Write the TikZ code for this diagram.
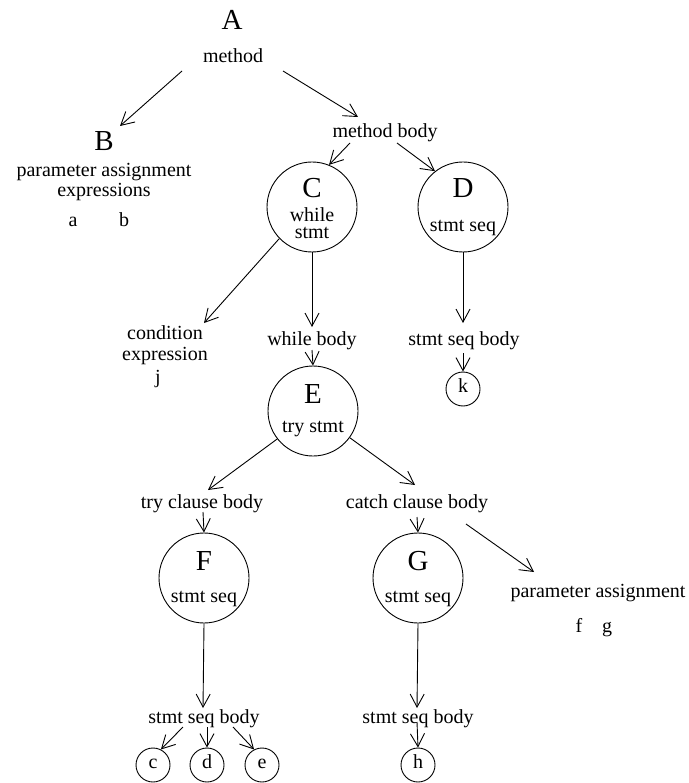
\documentclass[tikz,border=0pt]{standalone}
\usepackage{fontspec}
\setmainfont{Liberation Serif}
\usetikzlibrary{arrows.meta,calc}
\newcommand{\fTxt}{\fontsize{20}{24}\selectfont}
\newcommand{\fTwo}{\fontsize{20}{17}\selectfont}
\newcommand{\fBig}{\fontsize{29}{32}\selectfont}
\begin{document}
\begin{tikzpicture}[x=1pt,y=-1pt,
  lbl/.style={anchor=base,inner sep=0pt,font=\fTxt},
  biglbl/.style={anchor=base,inner sep=0pt,font=\fBig},
  bigc/.style={circle,draw,line width=0.9pt,minimum size=90pt,inner sep=0pt},
  leaf/.style={circle,draw,line width=0.9pt,minimum size=34pt,inner sep=0pt,
    text height=10pt,text depth=4pt,font=\fTxt},
  edge/.style={-{Straight Barb[length=13pt,width=14pt]},line width=0.9pt}]
\useasboundingbox (0,0) rectangle (688,783);

% method
\node[biglbl] (nA) at (232,30) {A};
\node[lbl] (mA) at (233,63) {method};

% parameter assignment expressions
\node[biglbl] (nB) at (104,151) {B};
\node[lbl] (pB1) at (104,177) {parameter assignment};
\node[lbl] (pB2) at (104,197) {expressions};
\node[lbl] (va) at (73,227) {a};
\node[lbl] (vb) at (124,227) {b};

% method body
\node[lbl] (mb) at (385,138) {method body};

% while statement (base anchor sits on the last line)
\node[bigc] (C) at (312,207) {};
\node[biglbl] (Cl) at (312,198) {C};
\node[lbl,align=center,font=\fTwo] (Cw) at (312,239) {while\\stmt};

% statement sequence of the method body
\node[bigc] (D) at (463,207) {};
\node[biglbl] (Dl) at (463,198) {D};
\node[lbl] (Ds) at (463,232) {stmt seq};
\node[lbl] (ssD) at (464,345) {stmt seq body};
\node[leaf] (k) at (463,389) {k};

% condition
\node[lbl] (ce1) at (165,339) {condition};
\node[lbl] (ce2) at (165,360) {expression};
\node[lbl] (vj) at (158,383) {j};

% while body and try statement
\node[lbl] (wb) at (312,345) {while body};
\node[bigc] (E) at (313,411) {};
\node[biglbl] (El) at (313,403) {E};
\node[lbl] (Et) at (313,432) {try stmt};

% clauses
\node[lbl] (tcb) at (202,508) {try clause body};
\node[lbl] (ccb) at (417,508) {catch clause body};

\node[bigc] (F) at (204,578) {};
\node[biglbl] (Fl) at (204,570) {F};
\node[lbl] (Ft) at (204,602) {stmt seq};

\node[bigc] (G) at (418,578) {};
\node[biglbl] (Gl) at (418,570) {G};
\node[lbl] (Gt) at (418,602) {stmt seq};

\node[lbl] (pa) at (598,597) {parameter assignment};
\node[lbl] (vf) at (579,632) {f};
\node[lbl] (vg) at (607,632) {g};

% statement sequence bodies
\node[lbl] (ssF) at (204,723) {stmt seq body};
\node[lbl] (ssG) at (418,723) {stmt seq body};
\node[leaf] (c) at (153,765) {c};
\node[leaf] (d) at (207,765) {d};
\node[leaf] (e) at (262,765) {e};
\node[leaf] (h) at (418,765) {h};

% connectors
\draw[edge] ($(mA.base)+(-51,8)$) -- ($(nB.base)+(16,-25)$);
\draw[edge] ($(mA.base)+(50,8)$) -- ($(mb.base)+(-27,-21)$);
\draw[edge] ($(mb.base)+(-35,5)$) -- (C.68);
\draw[edge] ($(mb.base)+(12,5)$) -- (D.128);
\draw[edge] (C.224) -- ($(ce1.base)+(39,-16)$);
\draw[edge] (C.south) -- ($(wb.base)+(0,-18)$);
\draw[edge] ($(wb.base)+(0,5)$) -- (E.north);
\draw[edge] (E.218) -- ($(tcb.base)+(6,-18)$);
\draw[edge] (E.-36) -- ($(ccb.base)+(-2,-23)$);
\draw[edge] ($(tcb.base)+(1,4)$) -- (F.north);
\draw[edge] ($(ccb.base)+(0,9)$) -- (G.north);
\draw[edge] ($(ccb.base)+(49,16)$) -- ($(pa.base)+(-64,-25)$);
\draw[edge] (D.south) -- ($(ssD.base)+(-1,-22)$);
\draw[edge] ($(ssD.base)+(-1,8)$) -- (k.north);
\draw[edge] (F.south) -- ($(ssF.base)+(-1,-15)$);
\draw[edge] ($(ssF.base)+(-21,4)$) -- (c.63);
\draw[edge] ($(ssF.base)+(3,4)$) -- (d.north);
\draw[edge] ($(ssF.base)+(29,4)$) -- (e.117);
\draw[edge] (G.south) -- ($(ssG.base)+(-1,-15)$);
\draw[edge] ($(ssG.base)+(-1,-1)$) -- (h.north);
\end{tikzpicture}
\end{document}
